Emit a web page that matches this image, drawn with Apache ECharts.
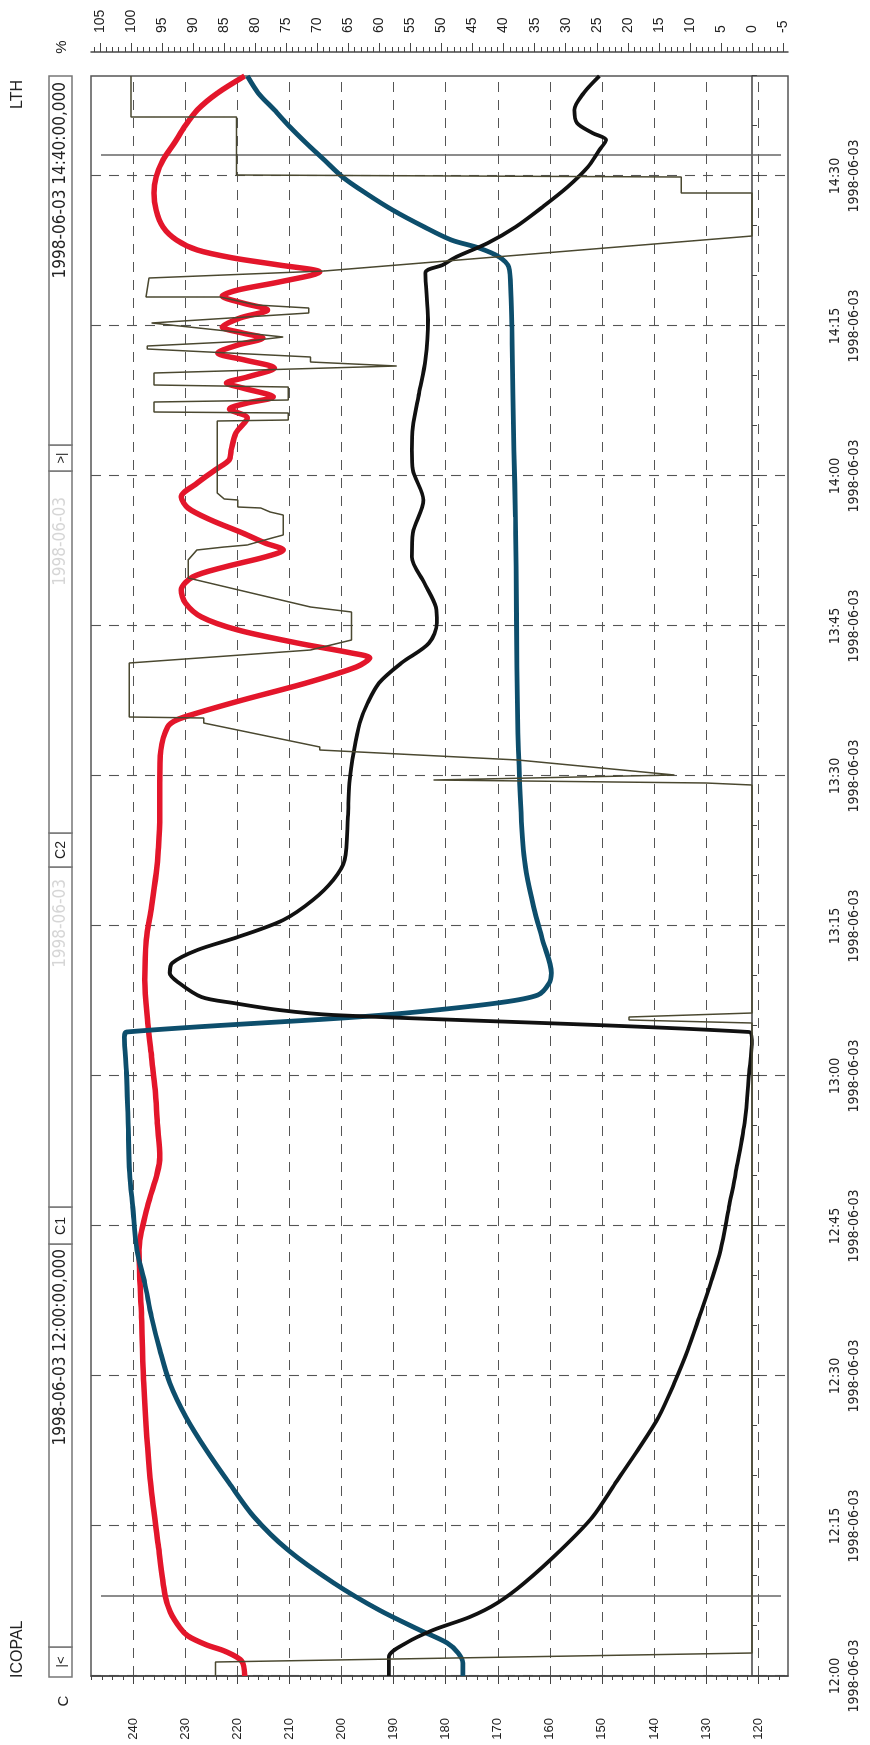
<!DOCTYPE html>
<html>
<head>
<meta charset="utf-8">
<script src="https://cdn.jsdelivr.net/npm/echarts@6/dist/echarts.min.js"></script>
<style>
html, body { margin: 0; padding: 0; background: #fff; overflow: hidden; width: 870px; height: 1745px; }
/* the printout is landscape, turned a quarter to the left */
#turn { position: absolute; left: 0; top: 0; width: 1745px; height: 870px; transform-origin: 0 0; transform: translateY(1745px) rotate(-90deg); }
#chart { width: 1745px; height: 870px; }
</style>
</head>
<body>
<div id="turn"><div id="chart"></div></div>
<script>
// time is minutes after 12:00
var timeLabels = ['12:00', '12:15', '12:30', '12:45', '13:00', '13:15', '13:30', '13:45', '14:00', '14:15', '14:30'];
var dateLabel = '1998-06-03';
var tempLabels = [120, 130, 140, 150, 160, 170, 180, 190, 200, 210, 220, 230, 240];
var pctLabels = [-5, 0, 5, 10, 15, 20, 25, 30, 35, 40, 45, 50, 55, 60, 65, 70, 75, 80, 85, 90, 95, 100, 105];
var cursorTimes = [8.0, 152.1];
var cursorSpan = [246.2, 115.6];

var redTemp = [[0, 218.6], [1.5, 219.2], [2.5, 222.5], [3.1, 225.9], [4.0, 229.5], [4.8, 231.0], [6.4, 232.9], [8.1, 233.9],
  [13.1, 235.2], [19.8, 236.8], [29.3, 238.0], [35.9, 238.4], [42.6, 238.9], [46.9, 237.3], [50.3, 235.4], [51.9, 234.9],
  [55.3, 235.4], [58.6, 235.8], [61.9, 236.5], [65.3, 237.2], [69.6, 237.8], [73.6, 237.5], [76.9, 236.5], [80.3, 235.6],
  [82.6, 235.2], [85.9, 234.9], [89.3, 234.9], [92.6, 234.7], [94.9, 233.4], [95.6, 231.7], [96.3, 227.7], [97.6, 219.0],
  [99.3, 206.8], [100.9, 197.2], [101.8, 194.6], [102.3, 198.1], [103.3, 208.5], [104.6, 219.9], [105.9, 226.9], [107.3, 230.0],
  [108.6, 230.8], [109.9, 228.6], [110.9, 222.5], [111.9, 214.7], [112.6, 211.2], [113.3, 214.7], [114.3, 219.0], [115.6, 225.1],
  [116.8, 229.5], [117.9, 230.8], [119.3, 227.7], [120.6, 224.3], [121.6, 221.6], [122.6, 221.2], [124.3, 220.3], [125.8, 218.1],
  [126.7, 221.5], [127.3, 218.1], [127.9, 213.1], [128.8, 219.0], [129.3, 222.1], [129.9, 218.1], [130.8, 212.9], [131.6, 218.6],
  [132.3, 223.8], [133.1, 219.9], [133.8, 215.1], [134.3, 219.0], [134.9, 222.9], [135.8, 219.5], [136.6, 214.2], [137.3, 219.0],
  [138.0, 222.9], [138.6, 219.9], [139.4, 212.0], [140.4, 204.2], [141.1, 212.0], [141.8, 220.8], [142.6, 227.7], [143.6, 231.7],
  [144.9, 234.3], [146.6, 235.6], [148.3, 236.0], [149.9, 235.6], [151.6, 234.3], [153.3, 232.1], [154.9, 230.2], [156.6, 227.7],
  [158.3, 223.8], [160, 218.6]];

var blueTemp = [[0, 176.7], [1.3, 176.7], [2.3, 177.6], [3.3, 179.7], [4.6, 185.0], [6.6, 192.8], [9.3, 201.5], [12.6, 210.3],
  [15.9, 216.8], [19.3, 221.6], [22.6, 226.0], [25.9, 229.9], [29.3, 233.0], [32.6, 234.9], [35.9, 236.5], [39.3, 237.8],
  [42.6, 239.3], [46.9, 240.1], [50.3, 240.7], [55.3, 241.0], [60.3, 241.3], [63.9, 241.7], [64.4, 241.3], [65.8, 199.8],
  [66.3, 187.6], [67.3, 170.1], [68.1, 162.3], [69.3, 160.1], [70.3, 159.7], [73.6, 161.4], [76.9, 163.1], [80.3, 164.5],
  [82.6, 165.1], [89.3, 165.8], [95.9, 166.2], [105.9, 166.4], [115.9, 166.6], [122.6, 166.9], [128.3, 167.1], [134.9, 167.3],
  [138.3, 167.5], [140.9, 167.9], [141.9, 169.7], [142.8, 173.6], [143.6, 178.9], [144.9, 184.1], [146.6, 190.2], [148.3, 195.4],
  [149.9, 199.8], [151.6, 203.3], [153.3, 206.8], [154.9, 209.9], [156.6, 212.9], [158.3, 216.0], [160, 218.1]];

var blackTemp = [[0, 190.9], [1.9, 190.9], [3.3, 187.6], [4.6, 182.4], [5.9, 175.4], [7.3, 170.1], [9.3, 164.9], [12.6, 157.9],
  [15.9, 151.8], [19.3, 147.4], [22.6, 143.1], [25.9, 139.1], [29.3, 136.1], [32.6, 133.5], [35.9, 131.3], [39.3, 129.1],
  [42.6, 127.2], [46.9, 125.6], [50.3, 124.3], [55.3, 122.6], [60.3, 121.7], [63.6, 121.2], [64.4, 121.7], [66.1, 201.6],
  [66.6, 212.0], [67.3, 220.8], [67.9, 226.9], [69.3, 231.2], [70.3, 233.0], [71.3, 232.5], [72.6, 227.7], [73.9, 219.9],
  [75.6, 211.2], [77.6, 205.5], [79.6, 201.6], [81.6, 199.4], [85.9, 198.8], [89.3, 198.5], [92.6, 197.6], [95.3, 196.5],
  [97.3, 195.0], [99.3, 192.8], [101.3, 188.5], [103.3, 183.2], [105.3, 181.7], [106.9, 181.9], [109.3, 184.1], [111.9, 186.5],
  [114.3, 186.3], [117.6, 184.3], [120.6, 186.3], [122.6, 186.5], [124.9, 186.3], [128.3, 185.1], [131.6, 183.9], [135.6, 183.4],
  [140.3, 183.9], [141.1, 180.6], [141.9, 178.0], [143.3, 171.9], [144.9, 166.6], [146.9, 161.4], [148.9, 156.6], [150.9, 152.7],
  [152.6, 150.5], [153.6, 149.2], [154.3, 151.8], [155.3, 154.8], [156.6, 155.3], [158.3, 153.5], [160, 150.5]];

// valve output, % axis
var valvePct = [[0, 86.4], [1.4, 86.4], [2.3, 0], [65.3, 0], [65.6, 19.8], [65.9, 19.8], [66.3, 0], [89.1, 0], [89.3, 7.4],
  [89.6, 51.3], [90.1, 12.5], [91.6, 37.7], [92.6, 69.6], [92.9, 69.6], [95.3, 88.3], [95.8, 88.3], [95.9, 100.3], [101.3, 100.3],
  [102.6, 71.1], [103.6, 64.5], [106.4, 64.5], [106.9, 71.1], [109.8, 90.8], [111.6, 90.8], [112.6, 89.4], [112.9, 85.0],
  [113.1, 81.3], [113.8, 77.3], [114.1, 75.5], [116.1, 75.5], [116.4, 77.6], [116.8, 79.1], [116.9, 82.8], [117.6, 82.8],
  [117.7, 85.0], [118.3, 86.1], [125.5, 86.1], [125.6, 74.7], [126.3, 74.7], [126.4, 96.3], [127.4, 96.3], [127.6, 74.7],
  [128.9, 74.7], [129.1, 96.3], [130.3, 96.3], [131.0, 57.2], [131.4, 71.1], [131.9, 71.1], [132.7, 97.4], [133.0, 97.4],
  [133.5, 81.0], [133.9, 75.5], [135.3, 96.7], [135.4, 96.7], [136.3, 71.4], [136.8, 71.4], [137.1, 79.8], [137.9, 85.7],
  [137.9, 97.6], [139.8, 97.1], [140.5, 68.9], [144.0, 0], [148.3, 0], [148.3, 11.4], [149.9, 11.4], [150.1, 83.0],
  [155.9, 83.0], [155.9, 100], [160, 100]];

function toMin(s) {
  var p = s.split(':');
  return (+p[0] - 12) * 60 + (+p[1]);
}
var timeTicks = timeLabels.map(toMin);
var timeMinor = [];
for (var m = 5; m <= 160; m += 5) if (m % 15) timeMinor.push(m);
var tempMinor = [];
for (var c = 116; c <= 248; c += 2) if (c % 10) tempMinor.push(c);
var pctMinor = [];
for (var q = -5; q <= 106; q++) if (q % 5) pctMinor.push(q);

var sans = "'Liberation Sans', Arial, sans-serif";
var narrow = "'Liberation Sans Narrow', 'Arial Narrow', 'DejaVu Sans Condensed', sans-serif";
var dash = { color: '#555', width: 1.1, type: [10, 8] };
var rule = { color: '#444', width: 1.5 };

var myChart = echarts.init(document.getElementById('chart'));

// toolbar above the plot
var cells = [68, 98, 501, 538, 878, 912, 1274, 1300, 1669];
var bar = [];
for (var i = 0; i < cells.length - 1; i++) {
  bar.push({
    type: 'rect', shape: { x: cells[i], y: 49, width: cells[i + 1] - cells[i], height: 23 },
    style: { fill: '#fff', stroke: '#777', lineWidth: 1.5 }
  });
}
function txt(x, y, s, align, size, color, family) {
  return {
    type: 'text', x: x, y: y,
    style: { text: s, align: align, verticalAlign: 'middle', fontSize: size, fontFamily: family || sans, fill: color || '#222' }
  };
}
bar.push(txt(83, 61, '|<', 'center', 13));
bar.push(txt(496, 61, '1998-06-03 12:00:00,000', 'right', 17, '#222', narrow));
bar.push(txt(519, 61, 'C1', 'center', 14));
bar.push(txt(866, 61, '1998-06-03', 'right', 17, '#d6d6d6', narrow));
bar.push(txt(895, 61, 'C2', 'center', 14));
bar.push(txt(1248, 61, '1998-06-03', 'right', 17, '#d6d6d6', narrow));
bar.push(txt(1287, 61, '>|', 'center', 13));
bar.push(txt(1663, 61, '1998-06-03 14:40:00,000', 'right', 17, '#222', narrow));
bar.push(txt(67, 18, 'ICOPAL', 'left', 16));
bar.push(txt(1665, 18, 'LTH', 'right', 16));
// axis units
bar.push(txt(44, 64, 'C', 'center', 15));
bar.push(txt(1698, 62, '%', 'center', 15));

function cursor(t) {
  return {
    type: 'line', silent: true, symbol: 'none', xAxisIndex: 0, yAxisIndex: 0,
    data: [[t, cursorSpan[0]], [t, cursorSpan[1]]],
    lineStyle: { color: '#666', width: 1.5 }
  };
}

var option = {
  animation: false,
  textStyle: { fontFamily: sans, color: '#222' },
  graphic: bar,
  grid: { left: 69, top: 91, width: 1600, height: 697, show: true, borderColor: '#555', borderWidth: 1.5, backgroundColor: '#fff' },
  xAxis: [{
    type: 'value', min: 0, max: 160, position: 'bottom', offset: 20,
    axisLine: { lineStyle: rule },
    axisTick: { customValues: timeTicks, length: 8, lineStyle: { color: '#444' } },
    axisLabel: {
      customValues: timeTicks, margin: 18, fontFamily: narrow, fontSize: 14, lineHeight: 19, color: '#222',
      formatter: function (v) { return timeLabels[timeTicks.indexOf(v)] + '\n' + dateLabel; }
    },
    splitLine: { show: true, lineStyle: dash }
  }, {
    type: 'value', min: 0, max: 160, position: 'bottom', offset: 20,
    axisLine: { show: false },
    axisTick: { customValues: timeMinor, length: 5, lineStyle: { color: '#444' } },
    axisLabel: { show: false },
    splitLine: { show: false }
  }],
  yAxis: [{
    type: 'value', min: 114.26, max: 248.12, position: 'left', offset: 22,
    axisLine: { show: true, lineStyle: rule },
    axisTick: { customValues: tempLabels, length: 8, lineStyle: { color: '#444' } },
    axisLabel: { customValues: tempLabels, margin: 20, fontSize: 13, color: '#222' },
    splitLine: { show: true, lineStyle: dash }
  }, {
    type: 'value', min: 114.26, max: 248.12, position: 'left', offset: 22,
    axisLine: { show: false },
    axisTick: { customValues: tempMinor, length: 4, lineStyle: { color: '#444' } },
    axisLabel: { show: false },
    splitLine: { show: false }
  }, {
    type: 'value', min: -5.8, max: 106.45, position: 'right', offset: 24,
    axisLine: { show: true, lineStyle: rule },
    axisTick: { customValues: pctLabels, length: 9, lineStyle: { color: '#444' } },
    axisLabel: { customValues: pctLabels, margin: 19, fontSize: 14, color: '#222' },
    splitLine: { show: false }
  }, {
    type: 'value', min: -5.8, max: 106.45, position: 'right', offset: 24,
    axisLine: { show: false },
    axisTick: { customValues: pctMinor, length: 5, lineStyle: { color: '#444' } },
    axisLabel: { show: false },
    splitLine: { show: false }
  }],
  series: [
    cursor(cursorTimes[0]),
    cursor(cursorTimes[1]),
    {
      name: 'T1', type: 'line', xAxisIndex: 0, yAxisIndex: 0, data: redTemp, symbol: 'none',
      smooth: 0.3, lineStyle: { color: '#e3162b', width: 5.5 }
    },
    {
      name: 'T2', type: 'line', xAxisIndex: 0, yAxisIndex: 0, data: blueTemp, symbol: 'none',
      smooth: 0.3, lineStyle: { color: '#0d4e6c', width: 4.8 }
    },
    {
      name: 'T3', type: 'line', xAxisIndex: 0, yAxisIndex: 0, data: blackTemp, symbol: 'none',
      smooth: 0.3, lineStyle: { color: '#111', width: 3.8 }
    },
    {
      name: 'Valve', type: 'line', xAxisIndex: 0, yAxisIndex: 2, data: valvePct, symbol: 'none',
      lineStyle: { color: '#4a4830', width: 1.5 }
    }
  ]
};
myChart.setOption(option);
</script>
</body>
</html>
